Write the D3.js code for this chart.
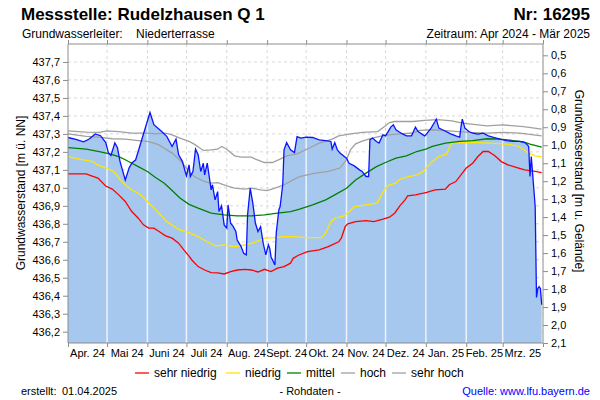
<!DOCTYPE html>
<html>
<head>
<meta charset="utf-8">
<script src="https://cdn.jsdelivr.net/npm/d3@7"></script>
<style>
  body { margin: 0; background: #fff; }
  svg text { font-family: "Liberation Sans", Arial, sans-serif; }
</style>
</head>
<body>
<svg class="d3svg" width="600" height="400"></svg>
<script>
var area_color = '#a6c8ef';
var raw_color = '#0a14ff';
var grid_color = '#d8d8d8';
var axis_color = '#8c8c8c';

// Rohdaten (Tageswerte, m ü. NN)
var rohdaten = [
  ["2024-04-01",437.28],["2024-04-07",437.27],["2024-04-13",437.256],["2024-04-17",437.27],
  ["2024-04-22",437.30],["2024-04-26",437.29],["2024-04-30",437.252],["2024-05-02",437.195],
  ["2024-05-04",437.18],["2024-05-07",437.25],["2024-05-09",437.223],["2024-05-11",437.146],
  ["2024-05-15",437.044],["2024-05-18",437.111],["2024-05-20",437.137],["2024-05-23",437.156],
  ["2024-06-03",437.419],["2024-06-06",437.351],["2024-06-12",437.313],["2024-06-16",437.285],
  ["2024-06-20",437.23],["2024-06-23",437.271],["2024-06-25",437.184],["2024-06-28",437.146],
  ["2024-06-30",437.091],["2024-07-01",437.067],["2024-07-03",437.128],["2024-07-04",437.063],
  ["2024-07-06",437.091],["2024-07-08",437.215],["2024-07-10",437.184],["2024-07-12",437.091],
  ["2024-07-14",437.137],["2024-07-15",437.072],["2024-07-17",437.137],["2024-07-20",436.989],
  ["2024-07-21",437.017],["2024-07-23",436.933],["2024-07-25",436.979],["2024-07-26",436.868],
  ["2024-07-28",436.90],["2024-07-30",436.794],["2024-08-01",436.776],["2024-08-02",436.905],
  ["2024-08-04",436.803],["2024-08-06",436.784],["2024-08-08",436.757],["2024-08-09",436.71],
  ["2024-08-12",436.673],["2024-08-14",436.636],["2024-08-16",436.627],["2024-08-17",436.85],
  ["2024-08-19",436.998],["2024-08-21",436.915],["2024-08-23",436.803],["2024-08-25",436.757],
  ["2024-08-27",436.784],["2024-08-29",436.692],["2024-08-31",436.627],["2024-09-02",436.683],
  ["2024-09-03",436.664],["2024-09-04",436.617],["2024-09-07",436.571],["2024-09-08",436.748],
  ["2024-09-10",436.877],["2024-09-11",436.896],["2024-09-13",437.017],["2024-09-14",437.211],
  ["2024-09-16",437.252],["2024-09-19",437.211],["2024-09-22",437.196],["2024-09-24",437.285],
  ["2024-09-27",437.277],["2024-10-01",437.282],["2024-10-06",437.28],["2024-10-11",437.267],
  ["2024-10-16",437.263],["2024-10-20",437.258],["2024-10-21",437.215],["2024-10-23",437.252],
  ["2024-10-25",437.211],["2024-10-27",437.193],["2024-11-01",437.165],["2024-11-03",437.137],
  ["2024-11-07",437.122],["2024-11-11",437.10],["2024-11-13",437.091],["2024-11-16",437.063],
  ["2024-11-18",437.063],["2024-11-19",437.267],["2024-11-21",437.277],["2024-11-24",437.258],
  ["2024-11-26",437.249],["2024-11-29",437.295],["2024-12-01",437.289],["2024-12-03",437.313],
  ["2024-12-05",437.338],["2024-12-07",437.351],["2024-12-09",437.323],["2024-12-13",437.304],
  ["2024-12-17",437.289],["2024-12-21",437.289],["2024-12-24",437.338],["2024-12-26",437.313],
  ["2024-12-31",437.289],["2025-01-01",437.295],["2025-01-05",437.332],["2025-01-08",437.369],
  ["2025-01-09",437.382],["2025-01-11",437.332],["2025-01-15",437.319],["2025-01-20",437.30],
  ["2025-01-24",437.289],["2025-01-27",437.282],["2025-01-28",437.341],["2025-01-29",437.382],
  ["2025-01-31",437.332],["2025-02-03",437.313],["2025-02-06",437.304],["2025-02-10",437.299],
  ["2025-02-14",437.304],["2025-02-18",437.289],["2025-02-22",437.28],["2025-02-27",437.271],
  ["2025-03-04",437.263],["2025-03-09",437.258],["2025-03-14",437.258],["2025-03-18",437.252],
  ["2025-03-20",437.239],["2025-03-21",437.23],["2025-03-22",437.063],["2025-03-23",437.174],
  ["2025-03-24",437.082],["2025-03-26",436.896],["2025-03-27",436.39],["2025-03-28",436.44],
  ["2025-03-29",436.45],["2025-03-30",436.44],["2025-03-31",436.35]
];

var sehr_niedrig = [
  ["2024-04-01",437.078],["2024-04-15",437.078],["2024-04-19",437.067],["2024-04-24",437.054],
  ["2024-04-30",437.01],["2024-05-05",436.993],["2024-05-10",436.961],["2024-05-15",436.924],
  ["2024-05-20",436.868],["2024-05-25",436.831],["2024-05-29",436.794],["2024-06-02",436.776],
  ["2024-06-06",436.776],["2024-06-10",436.757],["2024-06-15",436.733],["2024-06-20",436.72],
  ["2024-06-25",436.692],["2024-06-29",436.655],["2024-07-03",436.62],["2024-07-05",436.60],
  ["2024-07-10",436.562],["2024-07-15",436.543],["2024-07-20",436.528],["2024-07-25",436.527],
  ["2024-07-30",436.521],["2024-08-04",436.534],["2024-08-09",436.543],["2024-08-15",436.547],
  ["2024-08-20",436.543],["2024-08-25",436.532],["2024-08-30",436.547],["2024-09-04",436.534],
  ["2024-09-09",436.553],["2024-09-14",436.562],["2024-09-19",436.581],["2024-09-21",436.608],
  ["2024-09-25",436.625],["2024-10-02",436.645],["2024-10-11",436.655],["2024-10-18",436.673],
  ["2024-10-26",436.70],["2024-10-28",436.72],["2024-10-31",436.784],["2024-11-02",436.80],
  ["2024-11-08",436.812],["2024-11-16",436.818],["2024-11-22",436.812],["2024-11-29",436.826],
  ["2024-12-04",436.837],["2024-12-08",436.859],["2024-12-12",436.90],["2024-12-16",436.933],
  ["2024-12-18",436.955],["2024-12-24",436.961],["2024-12-30",436.97],["2025-01-01",436.974],
  ["2025-01-08",436.989],["2025-01-16",436.993],["2025-01-19",437.017],["2025-01-24",437.035],
  ["2025-01-28",437.072],["2025-02-01",437.11],["2025-02-06",437.137],["2025-02-10",437.174],
  ["2025-02-14",437.202],["2025-02-18",437.202],["2025-02-23",437.178],["2025-02-28",437.146],
  ["2025-03-05",437.128],["2025-03-12",437.113],["2025-03-18",437.10],["2025-03-26",437.091],
  ["2025-03-31",437.085]
];

var niedrig = [
  ["2024-04-01",437.174],["2024-04-10",437.16],["2024-04-20",437.146],["2024-04-25",437.122],
  ["2024-05-01",437.11],["2024-05-06",437.091],["2024-05-11",437.048],["2024-05-16",437.01],
  ["2024-05-21",436.985],["2024-05-27",436.961],["2024-06-01",436.924],["2024-06-06",436.887],
  ["2024-06-11",436.85],["2024-06-16",436.812],["2024-06-21",436.788],["2024-06-26",436.766],
  ["2024-07-03",436.751],["2024-07-10",436.729],["2024-07-17",436.70],["2024-07-23",436.677],
  ["2024-07-30",436.682],["2024-08-07",436.673],["2024-08-15",436.682],["2024-08-22",436.695],
  ["2024-08-30",436.72],["2024-09-06",436.723],["2024-09-14",436.729],["2024-09-21",436.729],
  ["2024-10-02",436.723],["2024-10-13",436.723],["2024-10-16",436.748],["2024-10-20",436.812],
  ["2024-10-23",436.831],["2024-10-30",436.844],["2024-11-03",436.868],["2024-11-07",436.896],
  ["2024-11-11",436.90],["2024-11-20",436.909],["2024-11-25",436.918],["2024-11-27",436.951],
  ["2024-12-01",436.998],["2024-12-04",437.017],["2024-12-09",437.026],["2024-12-12",437.048],
  ["2024-12-17",437.059],["2024-12-25",437.072],["2024-12-30",437.09],["2025-01-01",437.11],
  ["2025-01-06",437.146],["2025-01-11",437.174],["2025-01-17",437.189],["2025-01-20",437.239],
  ["2025-01-22",437.252],["2025-01-29",437.252],["2025-02-09",437.252],["2025-02-19",437.249],
  ["2025-03-04",437.243],["2025-03-12",437.234],["2025-03-17",437.215],["2025-03-21",437.193],
  ["2025-03-26",437.178],["2025-03-31",437.174]
];

var mittel = [
  ["2024-04-01",437.224],["2024-04-15",437.215],["2024-04-25",437.202],["2024-05-03",437.189],
  ["2024-05-10",437.174],["2024-05-15",437.156],["2024-05-20",437.137],["2024-05-25",437.118],
  ["2024-06-01",437.091],["2024-06-07",437.059],["2024-06-14",437.026],["2024-06-20",436.985],
  ["2024-06-26",436.943],["2024-07-03",436.908],["2024-07-10",436.887],["2024-07-20",436.859],
  ["2024-07-30",436.85],["2024-08-09",436.844],["2024-08-20",436.844],["2024-08-30",436.85],
  ["2024-09-09",436.859],["2024-09-19",436.868],["2024-09-26",436.881],["2024-10-06",436.905],
  ["2024-10-16",436.933],["2024-10-23",436.961],["2024-11-01",436.998],["2024-11-08",437.044],
  ["2024-11-16",437.082],["2024-11-24",437.118],["2024-12-01",437.141],["2024-12-09",437.165],
  ["2024-12-17",437.178],["2024-12-25",437.202],["2025-01-01",437.215],["2025-01-06",437.23],
  ["2025-01-16",437.249],["2025-01-27",437.258],["2025-02-06",437.263],["2025-02-17",437.273],
  ["2025-02-27",437.271],["2025-03-09",437.263],["2025-03-17",437.256],["2025-03-22",437.243],
  ["2025-03-31",437.226]
];

var hoch = [
  ["2024-04-01",437.30],["2024-04-15",437.286],["2024-04-25",437.282],["2024-05-05",437.273],
  ["2024-05-15",437.271],["2024-05-25",437.263],["2024-06-01",437.258],["2024-06-06",437.249],
  ["2024-06-10",437.239],["2024-06-15",437.215],["2024-06-20",437.193],["2024-06-25",437.16],
  ["2024-06-29",437.128],["2024-07-03",437.091],["2024-07-07",437.063],["2024-07-15",437.035],
  ["2024-07-20",437.026],["2024-07-25",437.029],["2024-08-01",437.011],["2024-08-07",436.998],
  ["2024-08-15",436.993],["2024-08-20",436.998],["2024-08-27",436.989],["2024-09-01",436.985],
  ["2024-09-07",436.998],["2024-09-14",437.017],["2024-09-21",437.044],["2024-09-26",437.063],
  ["2024-10-02",437.072],["2024-10-08",437.082],["2024-10-18",437.091],["2024-10-27",437.11],
  ["2024-11-01",437.156],["2024-11-04",437.211],["2024-11-08",437.245],["2024-11-13",437.26],
  ["2024-11-20",437.275],["2024-12-01",437.293],["2024-12-12",437.30],["2024-12-22",437.305],
  ["2024-12-27",437.32],["2025-01-06",437.323],["2025-01-21",437.315],["2025-02-03",437.308],
  ["2025-02-17",437.304],["2025-03-01",437.308],["2025-03-14",437.304],["2025-03-31",437.289]
];

var sehr_hoch = [
  ["2024-04-01",437.317],["2024-04-15",437.31],["2024-04-25",437.308],["2024-05-01",437.317],
  ["2024-05-10",437.313],["2024-05-20",437.304],["2024-06-01",437.304],["2024-06-07",437.30],
  ["2024-06-15",437.304],["2024-06-20",437.295],["2024-06-26",437.277],["2024-07-03",437.258],
  ["2024-07-07",437.243],["2024-07-14",437.208],["2024-07-20",437.211],["2024-07-25",437.215],
  ["2024-07-28",437.23],["2024-08-01",437.215],["2024-08-07",437.178],["2024-08-12",437.171],
  ["2024-08-20",437.171],["2024-08-23",437.16],["2024-08-30",437.141],["2024-09-05",437.141],
  ["2024-09-11",437.16],["2024-09-16",437.178],["2024-09-24",437.189],["2024-09-30",437.21],
  ["2024-10-03",437.22],["2024-10-11",437.249],["2024-10-21",437.271],["2024-10-26",437.289],
  ["2024-11-03",437.299],["2024-11-13",437.308],["2024-11-25",437.313],["2024-12-01",437.345],
  ["2024-12-04",437.363],["2024-12-08",437.369],["2024-12-22",437.369],["2024-12-31",437.375],
  ["2025-01-10",437.379],["2025-01-21",437.373],["2025-01-29",437.36],["2025-02-17",437.345],
  ["2025-03-01",437.35],["2025-03-17",437.341],["2025-03-31",437.327]
];

var month_labels = ["Apr. 24","Mai 24","Juni 24","Juli 24","Aug. 24","Sept. 24",
                    "Okt. 24","Nov. 24","Dez. 24","Jan. 25","Feb. 25","Mrz. 25"];
var nn_ticks = [436.2,436.3,436.4,436.5,436.6,436.7,436.8,436.9,437.0,437.1,437.2,437.3,437.4,437.5,437.6,437.7];
var gel_ticks = [0.5,0.6,0.7,0.8,0.9,1.0,1.1,1.2,1.3,1.4,1.5,1.6,1.7,1.8,1.9,2.0,2.1];
var gelaende = 438.237; // Gelaendehoehe m ü. NN
var period = ["2024-04-01","2025-04-01"];

var legend_items = [
  {name:"sehr niedrig", color:"#ff0000", data:sehr_niedrig},
  {name:"niedrig",      color:"#ffe600", data:niedrig},
  {name:"mittel",       color:"#008000", data:mittel},
  {name:"hoch",         color:"#a0a0a0", data:hoch},
  {name:"sehr hoch",    color:"#a0a0a0", data:sehr_hoch}
];

var svg = d3.select(".d3svg");
var parse = d3.timeParse("%Y-%m-%d");
var p_left = 68, p_right = 543, p_top = 44, p_bottom = 343;

var x = d3.scaleTime().domain(period.map(parse)).range([p_left, p_right]);
var y = d3.scaleLinear().domain([436.137, 437.80]).range([p_bottom, p_top]);
var y2 = d3.scaleLinear().domain([gelaende-436.137, gelaende-437.80]).range([p_bottom, p_top]);

var comma = function(f){ return function(d){ return d3.format(f)(d).replace(".", ","); }; };

var months = d3.timeMonth.range(parse(period[0]), parse(period[1]));
var month_bounds = months.concat([parse(period[1])]);

// grid
svg.append("g").selectAll("line").data(nn_ticks).enter().append("line")
    .attr("x1", p_left).attr("x2", p_right)
    .attr("y1", function(d){ return y(d); }).attr("y2", function(d){ return y(d); })
    .attr("stroke", grid_color).attr("stroke-dasharray", "3,3");
svg.append("g").selectAll("line").data(months.slice(1)).enter().append("line")
    .attr("x1", function(d){ return x(d); }).attr("x2", function(d){ return x(d); })
    .attr("y1", p_top).attr("y2", p_bottom)
    .attr("stroke", grid_color).attr("stroke-dasharray", "3,3");

// raw data area
var raw = rohdaten.map(function(d){ return {date: parse(d[0]), v: d[1]}; });
var areaFn = d3.area().x(function(d){ return x(d.date); }).y0(p_bottom).y1(function(d){ return y(d.v); });
svg.append("clipPath").attr("id", "rawclip").append("path").attr("d", areaFn(raw));
svg.append("path").attr("d", areaFn(raw)).attr("fill", area_color);
svg.append("g").attr("clip-path", "url(#rawclip)")
    .selectAll("line").data(months.slice(1)).enter().append("line")
    .attr("x1", function(d){ return x(d); }).attr("x2", function(d){ return x(d); })
    .attr("y1", p_top).attr("y2", p_bottom)
    .attr("stroke", "#eef2f8").attr("stroke-width", 1.5);

// statistic lines
var lineFn = d3.line().x(function(d){ return x(parse(d[0])); }).y(function(d){ return y(d[1]); });
legend_items.forEach(function(s){
  svg.append("path").attr("d", lineFn(s.data))
    .attr("fill", "none").attr("stroke", s.color).attr("stroke-width", 1.3);
});

svg.append("path")
    .attr("d", d3.line().x(function(d){ return x(d.date); }).y(function(d){ return y(d.v); })(raw))
    .attr("fill", "none").attr("stroke", raw_color).attr("stroke-width", 1.3);

// axes
var yAxisL = svg.append("g").attr("transform", "translate(" + p_left + ",0)")
    .call(d3.axisLeft(y).tickValues(nn_ticks).tickSize(5).tickFormat(comma(".1f")));
var yAxisR = svg.append("g").attr("transform", "translate(" + p_right + ",0)")
    .call(d3.axisRight(y2).tickValues(gel_ticks).tickSize(5).tickFormat(comma(".1f")));
var xAxisB = svg.append("g").attr("transform", "translate(0," + p_bottom + ")")
    .call(d3.axisBottom(x).tickValues(month_bounds).tickSize(4).tickFormat(""));
var xAxisT = svg.append("g").attr("transform", "translate(0," + p_top + ")")
    .call(d3.axisTop(x).tickValues(month_bounds).tickSize(4).tickFormat(""));

[yAxisL, yAxisR, xAxisB, xAxisT].forEach(function(a){
  a.select(".domain").attr("stroke", axis_color);
  a.selectAll(".tick line").attr("stroke", axis_color);
  a.selectAll("text").attr("font-size", 11).attr("fill", "#000")
    .attr("font-family", "'Liberation Sans', Arial, sans-serif");
});
yAxisL.select(".domain").attr("d", "M0," + p_top + "V" + p_bottom);
yAxisR.select(".domain").attr("d", "M0," + p_top + "V" + p_bottom);
xAxisT.select(".domain").attr("d", "M" + p_left + ",0H" + p_right);
xAxisB.select(".domain").attr("d", "M" + p_left + ",0H" + p_right);

svg.append("g").selectAll("text").data(months).enter().append("text")
    .attr("x", function(d){ return (x(d) + x(d3.timeMonth.offset(d, 1))) / 2; })
    .attr("y", 357)
    .attr("text-anchor", "middle").attr("font-size", 11)
    .text(function(d, i){ return month_labels[i]; });

// axis titles
svg.append("text").attr("transform", "translate(25,193) rotate(-90)")
    .attr("text-anchor", "middle").attr("font-size", 12).text("Grundwasserstand [m ü. NN]");
svg.append("text").attr("transform", "translate(575,181) rotate(90)")
    .attr("text-anchor", "middle").attr("font-size", 12).text("Grundwasserstand [m u. Gelände]");

// header
svg.append("text").attr("x", 21).attr("y", 20).attr("font-size", 17).attr("font-weight", "bold")
    .text("Messstelle: Rudelzhausen Q 1");
svg.append("text").attr("x", 590).attr("y", 20).attr("font-size", 17).attr("font-weight", "bold")
    .attr("text-anchor", "end").text("Nr: 16295");
svg.append("text").attr("x", 22).attr("y", 38).attr("font-size", 12).text("Grundwasserleiter:");
svg.append("text").attr("x", 136).attr("y", 38).attr("font-size", 12).text("Niederterrasse");
svg.append("text").attr("x", 590).attr("y", 38).attr("font-size", 12)
    .attr("text-anchor", "end").text("Zeitraum: Apr 2024 - Mär 2025");

// legend
var legend_x = [135, 226, 287, 341, 392];
var legend = svg.append("g").selectAll("g").data(legend_items).enter().append("g")
    .attr("transform", function(d, i){ return "translate(" + legend_x[i] + ",373)"; });
legend.append("line").attr("x1", 0).attr("x2", 14)
    .attr("stroke", function(d){ return d.color; }).attr("stroke-width", 1.3);
legend.append("text").attr("x", 19).attr("y", 4).attr("font-size", 12)
    .text(function(d){ return d.name; });

// footer
svg.append("text").attr("x", 21).attr("y", 395).attr("font-size", 11).text("erstellt:");
svg.append("text").attr("x", 62).attr("y", 395).attr("font-size", 11).text("01.04.2025");
svg.append("text").attr("x", 310).attr("y", 395).attr("font-size", 11)
    .attr("text-anchor", "middle").text("- Rohdaten -");
svg.append("text").attr("x", 590).attr("y", 395).attr("font-size", 11)
    .attr("text-anchor", "end").attr("fill", "#0000ff").text("Quelle: www.lfu.bayern.de");
</script>
</body>
</html>
